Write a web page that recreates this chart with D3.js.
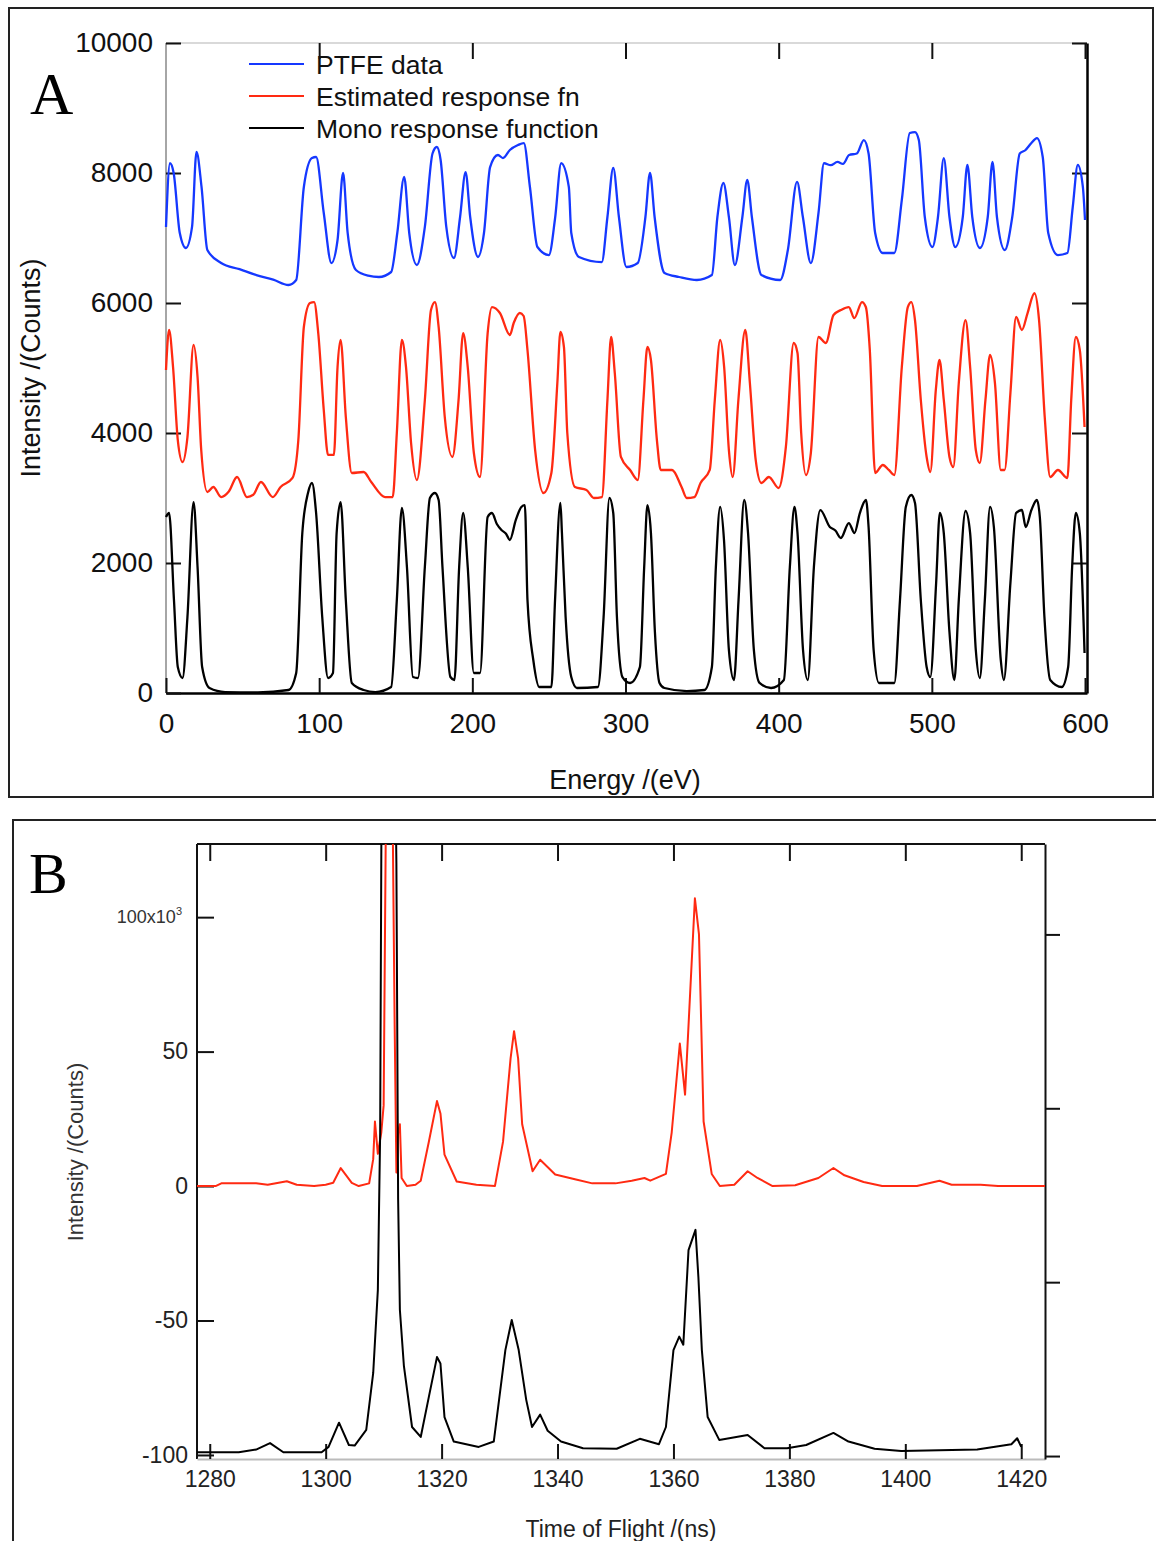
<!DOCTYPE html>
<html>
<head>
<meta charset="utf-8">
<script src="https://cdn.jsdelivr.net/npm/d3@7"></script>
<style>
  html, body { margin: 0; padding: 0; background: #fff; }
  svg { display: block; }
  .sans { font-family: "Liberation Sans", Arial, Helvetica, sans-serif; }
  .serif { font-family: "Liberation Serif", "Times New Roman", serif; }
</style>
</head>
<body>
<svg id="fig" width="1156" height="1541"></svg>
<script>
// ---------- Panel A: energy scans (eV, counts) ----------
const energyTicks = [0, 100, 200, 300, 400, 500, 600];
const intensityTicksA = [0, 2000, 4000, 6000, 8000, 10000];
const legendLabels = ["PTFE data", "Estimated response fn", "Mono response function"];

const ptfeData = [
  [0,7169],[2.6,8150],[5,8000],[9,7077],[13,6846],[17,7170],[19.9,8323],[23.2,7785],[27,6815],[36,6615],
  [48,6520],[59,6430],[70,6360],[80,6277],[85,6354],[90,7785],[95.3,8230],[98,8246],[103,7385],[108,6615],
  [112,6969],[115.6,8000],[118.6,7077],[124,6508],[132,6420],[139,6400],[147,6477],[151,7077],[155.5,7940],
  [158.8,7077],[163.8,6585],[169,7170],[174,8300],[176.8,8400],[179.3,8200],[183,7170],[188,6692],[192,7323],
  [195.6,8015],[198.6,7323],[203.7,6708],[207.6,7077],[211.6,8092],[216.7,8277],[220,8230],[224.5,8354],
  [229.8,8430],[233.6,8460],[237.6,7785],[242.5,6861],[250,6738],[254,7300],[258,8150],[263,7785],[264.6,7077],
  [269.6,6708],[284.5,6630],[288.2,7323],[292,8077],[295.7,7323],[300.6,6554],[308,6615],[313,7323],[316,8000],
  [319,7323],[325.5,6461],[335,6400],[346.6,6354],[356.4,6430],[360,7323],[363.9,7846],[367.5,7323],[371.4,6585],
  [376.3,7323],[379.5,7892],[382.5,7323],[388.7,6430],[401,6354],[406,6815],[412,7862],[415.8,7323],[421,6615],
  [426,7385],[429.6,8150],[434,8120],[438.4,8170],[442,8140],[446,8277],[451,8300],[455.6,8507],[458.7,8300],
  [463,7077],[468,6769],[475.5,6769],[480.4,7585],[485.6,8615],[489,8630],[491.5,8507],[495.4,7323],[500.4,6861],
  [504,7323],[507.8,8230],[511.5,7323],[515.3,6861],[520.2,7323],[523.2,8123],[526.4,7323],[531.4,6846],
  [536.5,7323],[539.6,8170],[542.5,7323],[547.6,6815],[552.5,7323],[557.4,8300],[561,8350],[565,8461],
  [568.6,8538],[572.4,8246],[576,7077],[582.3,6738],[588.5,6769],[592,7477],[595.3,8123],[598.6,7785],[600,7277]
];

const estimatedData = [
  [0,4969],[2,5585],[4.6,5015],[7.7,3892],[10.8,3554],[14,3938],[18,5354],[20.6,4862],[23,3738],[27,3092],
  [30.9,3169],[36,3015],[41,3100],[46.4,3323],[52.9,3015],[57,3050],[62,3246],[69.7,3015],[74.8,3169],[82.6,3308],
  [86.4,3892],[90,5631],[94,6000],[96.7,6015],[99.4,5538],[103,4354],[105.8,3662],[109.6,3662],[112,5015],
  [114,5431],[117.4,4246],[121.3,3385],[129,3400],[134,3246],[143,3015],[148,3015],[150.7,4000],[154,5431],
  [156.7,5015],[160,3846],[163.8,3277],[169,4508],[173,5892],[175.6,6015],[178,5631],[182,4246],[187,3631],
  [191,4508],[194,5538],[197,5015],[201,3692],[205,3323],[210,5538],[212.8,5938],[218,5846],[224.5,5508],
  [227,5692],[231,5846],[233.5,5800],[236,5277],[241,3738],[246.4,3077],[251.6,3385],[255.5,4769],[257.5,5554],
  [259.8,5323],[262,4000],[267,3169],[274.5,3123],[279.4,3000],[284.6,3015],[288.2,4508],[290.6,5477],[293,4923],
  [297,3631],[303,3431],[308,3277],[311.7,4508],[314.3,5323],[316.6,5123],[320.5,3892],[323,3431],[330.4,3431],
  [336.6,3169],[340,3000],[345,3015],[349,3231],[355,3431],[358.3,4508],[361.8,5431],[364.4,5015],[367.5,3738],
  [370,3323],[373.7,4508],[378.2,5585],[381.2,4769],[385,3585],[388.7,3231],[393.6,3323],[400,3154],[404.7,3785],
  [409.8,5385],[412.3,5230],[414.7,4000],[417.8,3354],[421,3692],[426,5477],[430.8,5385],[435.8,5815],[440.6,5892],
  [445.8,5938],[449.4,5769],[454.4,6015],[456.9,5938],[459.5,5277],[463,3385],[468,3508],[471.9,3431],[475.5,3354],
  [480.4,5015],[484.3,5938],[486.6,6015],[489,5738],[492.8,4508],[496.6,3631],[499,3400],[502.6,4662],[505,5123],
  [507.8,4508],[511.5,3631],[514,3477],[517.6,4769],[522,5738],[525,5015],[528.7,3738],[531.3,3538],[535,4508],
  [538,5200],[541.2,4769],[545,3431],[547.5,3431],[551.3,4615],[555,5785],[558.8,5585],[562.5,5846],[567,6150],
  [570,5738],[573.7,4246],[577.3,3323],[582.3,3431],[588.5,3308],[591,4508],[594,5477],[596.6,5277],[599.7,4092]
];

const monoData = [
  [0,2708],[2,2769],[5.2,1431],[7.7,400],[10.8,231],[14,1169],[18,2938],[20.6,1938],[23.6,400],[28.4,77],
  [38.6,15],[60,10],[80,46],[85,308],[89,2461],[92.7,3077],[95.3,3231],[98,2769],[102,1169],[105.8,231],
  [109,308],[111.4,2461],[114,2938],[117.4,1431],[121.3,154],[129,46],[136.7,15],[147,92],[150.7,1431],
  [154,2846],[157.3,1938],[161.2,246],[164.5,231],[169,1938],[172.3,3000],[175.6,3077],[178,2969],[180.5,1938],
  [185.7,246],[188.3,200],[191.4,1938],[194,2769],[197,1938],[201,308],[205,308],[210,2708],[212.8,2769],
  [216,2600],[219,2508],[222,2450],[224.5,2354],[228.4,2662],[232,2862],[234.3,2890],[236,1431],[239.8,508],
  [243.7,92],[251.6,92],[254,1431],[257.5,2923],[258.5,2461],[260.9,1169],[264.6,246],[268.3,77],[282,92],
  [285.7,1169],[289.5,3000],[292,2769],[294.4,1169],[298,246],[303,154],[309.4,400],[312.2,1938],[314.3,2890],
  [316.6,2461],[319.2,938],[322.2,154],[325.4,77],[340,30],[351.5,46],[356.4,400],[359,1938],[361.8,2862],
  [364.3,2354],[367.5,662],[370.8,200],[373.8,1431],[377.5,2969],[380,2461],[383.8,662],[387.5,154],[395,77],
  [403.4,200],[407.3,1938],[410.3,2862],[412.3,2461],[415.9,662],[419,200],[423,1938],[427.2,2815],[433.4,2554],
  [437,2500],[440.6,2385],[445.8,2615],[449.5,2461],[453,2769],[457,2969],[458.7,2554],[462,662],[465.5,154],
  [475.5,154],[479.2,1431],[483,2862],[486.6,3046],[489,2923],[492.8,1431],[496.6,400],[499,246],[502.8,1692],
  [505.2,2769],[507.8,2461],[511.5,938],[514.7,200],[517.6,1431],[522,2800],[525,2461],[528.7,662],[531.3,231],
  [534.6,1431],[538,2862],[540.5,2554],[545,508],[547,200],[551.3,1692],[555,2769],[558.8,2815],[561.3,2554],
  [565,2815],[568.6,2969],[570.5,2708],[573.5,1169],[577.3,200],[584.8,92],[589,400],[591.6,1938],[594,2769],
  [596.6,2461],[599.7,615]
];

// ---------- Panel B: time of flight (ns, 10^3 counts) ----------
const timeTicks = [1280, 1300, 1320, 1340, 1360, 1380, 1400, 1420];
const intensityTicksB = [-100, -50, 0, 50, 100];
const rightTicksB = [0, 1, 2, 3];

const tofEstimated = [
  [1277.8,0],[1281,0],[1282,1],[1288,1],[1290,0.5],[1293.3,1.8],[1295,0.5],[1298,0],[1300,0.5],[1301.3,1.2],
  [1302.6,6.7],[1304.5,1.2],[1305.7,0],[1307.5,1],[1308.2,10],[1308.5,24],[1309,12],[1309.6,20],[1310,30],
  [1310.4,140],[1311.5,150],[1311.9,60],[1312.2,5],[1312.5,20],[1312.8,23],[1313.1,3],[1314,0],[1315.5,0.5],
  [1316.4,2],[1317.8,16.5],[1319.2,31.6],[1319.8,27],[1320.5,11.7],[1322.6,1.7],[1326,0.5],[1329.2,0],
  [1330.6,16.5],[1331.9,47.5],[1332.5,57.6],[1333.2,47.5],[1333.9,23],[1335.7,5.5],[1337,9.8],[1339.6,4.3],
  [1343,2.5],[1346,1],[1350,1],[1352.8,2],[1355,3],[1356,2],[1358.7,4.5],[1359.7,20],[1361.1,53],[1362,34],
  [1363.7,107],[1364.4,93.7],[1364.7,68],[1365.2,24],[1366.6,4.5],[1368,0],[1370.5,0.5],[1372.8,5.5],
  [1374.5,3],[1377.1,0],[1381,0.3],[1385,3],[1387.6,6.7],[1389.5,4],[1392.8,1.5],[1396,0],[1402,0],
  [1405.9,2],[1408,0.5],[1413,0.5],[1416,0],[1424.1,0]
];

const tofMono = [
  [1277.8,-99],[1285,-99],[1288,-98],[1290.4,-95.6],[1292.7,-99],[1299.3,-99],[1300.5,-97],[1302.3,-88],
  [1304,-96.3],[1305,-96.5],[1307,-90.7],[1308.2,-69.5],[1309,-38.7],[1309.4,20],[1309.8,230],[1311.5,250],
  [1312.2,120],[1312.5,-5],[1312.8,-46],[1313.5,-67],[1314.9,-89.6],[1316.4,-93.3],[1317.8,-78.4],[1319.2,-63.6],
  [1319.8,-66],[1320.5,-85.9],[1322.1,-95],[1326.4,-97],[1329,-95],[1331,-61],[1332.1,-49.8],[1333.3,-61],
  [1334.6,-79.5],[1335.6,-89.6],[1337,-85],[1338.3,-91],[1340.6,-95],[1344.4,-97.5],[1350.2,-97.7],[1354.2,-94],
  [1357.5,-96],[1358.7,-89.6],[1360,-61],[1361,-56],[1361.7,-59],[1362.6,-23.8],[1363.8,-16.3],[1364.3,-33.8],
  [1364.9,-61],[1365.9,-85.9],[1367.9,-94.4],[1372.8,-92.6],[1375.7,-97.5],[1379.6,-97.5],[1382.9,-96.3],
  [1387.6,-91.8],[1390.2,-95],[1394.7,-97.7],[1399.3,-98.5],[1412.4,-98],[1418.3,-96],[1419.3,-93.8],[1420,-97]
];

const BLUE = "#1538ff";
const RED = "#ff2a12";
const BLACK = "#000";
const plainNumber = d => String(d);

const svg = d3.select("#fig");
svg.append("rect").attr("width", 1156).attr("height", 1541).attr("fill", "#fff");

// ================= Panel A =================
svg.append("rect").attr("x", 9).attr("y", 8).attr("width", 1144).attr("height", 789)
  .attr("fill", "none").attr("stroke", "#222").attr("stroke-width", 2);

const A = { left: 166, right: 1087, top: 43, bottom: 693 };
const xA = d3.scaleLinear().domain([0, 601.3]).range([A.left, A.right]);
const yA = d3.scaleLinear().domain([0, 10000]).range([A.bottom, A.top]);

const gA = svg.append("g").attr("class", "sans");

// frame lines
gA.append("line").attr("x1", A.left).attr("x2", A.right).attr("y1", A.top).attr("y2", A.top)
  .attr("stroke", "#ccc").attr("stroke-width", 1.5);
gA.append("line").attr("x1", A.left).attr("x2", A.left).attr("y1", A.top).attr("y2", A.bottom)
  .attr("stroke", "#888").attr("stroke-width", 1.5);

// axes
const axA_bottom = gA.append("g").attr("transform", `translate(0,${A.bottom})`)
  .call(d3.axisBottom(xA).tickValues(energyTicks).tickSizeInner(-15).tickSizeOuter(0).tickPadding(20)
    .tickFormat(plainNumber));
const axA_top = gA.append("g").attr("transform", `translate(0,${A.top})`)
  .call(d3.axisTop(xA).tickValues(energyTicks.slice(1)).tickSizeInner(-16).tickSizeOuter(0).tickFormat(""));
const axA_left = gA.append("g").attr("transform", `translate(${A.left},0)`)
  .call(d3.axisLeft(yA).tickValues(intensityTicksA).tickSizeInner(-15).tickSizeOuter(0).tickPadding(13)
    .tickFormat(plainNumber));
const axA_right = gA.append("g").attr("transform", `translate(${A.right},0)`)
  .call(d3.axisRight(yA).tickValues(intensityTicksA.slice(1)).tickSizeInner(-15).tickSizeOuter(0).tickFormat(""));

[axA_bottom, axA_top, axA_left, axA_right].forEach(ax => {
  ax.selectAll(".tick line").attr("stroke", "#111").attr("stroke-width", 2);
  ax.selectAll(".tick text").attr("font-size", 28).attr("fill", "#111")
    .attr("font-family", "'Liberation Sans', Arial, sans-serif");
});
axA_left.select(".domain").remove();
axA_top.select(".domain").remove();
axA_bottom.select(".domain").attr("stroke", "#000").attr("stroke-width", 2.5);
axA_right.select(".domain").attr("stroke", "#000").attr("stroke-width", 2.5);

// data curves
const lineA = d3.line().curve(d3.curveMonotoneX).x(d => xA(d[0])).y(d => yA(d[1]));
const seriesA = [
  { data: ptfeData, color: BLUE },
  { data: estimatedData, color: RED },
  { data: monoData, color: BLACK }
];
seriesA.forEach(s => {
  gA.append("path").datum(s.data).attr("d", lineA)
    .attr("fill", "none").attr("stroke", s.color).attr("stroke-width", 2.3)
    .attr("stroke-linejoin", "round");
});

// legend
const legend = gA.append("g");
legendLabels.forEach((label, i) => {
  const y = 64 + i * 32;
  legend.append("line").attr("x1", 249).attr("x2", 304).attr("y1", y).attr("y2", y)
    .attr("stroke", seriesA[i].color).attr("stroke-width", 2);
  legend.append("text").attr("x", 316).attr("y", y + 9.5).attr("font-size", 26.5)
    .attr("fill", "#111").text(label);
});

// axis titles
gA.append("text").attr("x", 625).attr("y", 789).attr("text-anchor", "middle")
  .attr("font-size", 27).attr("fill", "#111").text("Energy /(eV)");
gA.append("text").attr("transform", "translate(40,368) rotate(-90)").attr("text-anchor", "middle")
  .attr("font-size", 27).attr("fill", "#111").text("Intensity /(Counts)");

svg.append("text").attr("class", "serif").attr("x", 30).attr("y", 114)
  .attr("font-size", 60).attr("fill", "#000").text("A");

// ================= Panel B =================
svg.append("path").attr("d", "M1160,820 L13,820 L13,1545")
  .attr("fill", "none").attr("stroke", "#222").attr("stroke-width", 2);

const B = { left: 197, right: 1045, top: 844, bottom: 1459 };
const xB = d3.scaleLinear().domain([1277.8, 1424.1]).range([B.left, B.right]);
const yB = d3.scaleLinear().domain([-101.5, 127.2]).range([B.bottom, B.top]);
const yBr = d3.scaleLinear().domain([-0.017, 3.52]).range([B.bottom, B.top]);

const gB = svg.append("g").attr("class", "sans");

svg.append("defs").append("clipPath").attr("id", "clipB")
  .append("rect").attr("x", B.left).attr("y", B.top).attr("width", B.right - B.left).attr("height", B.bottom - B.top);

// frame
gB.append("line").attr("x1", B.left).attr("x2", B.right).attr("y1", B.top).attr("y2", B.top)
  .attr("stroke", "#111").attr("stroke-width", 2);
gB.append("line").attr("x1", B.left).attr("x2", B.left).attr("y1", B.top).attr("y2", B.bottom)
  .attr("stroke", "#111").attr("stroke-width", 2);

const axB_bottom = gB.append("g").attr("transform", `translate(0,${B.bottom})`)
  .call(d3.axisBottom(xB).tickValues(timeTicks).tickSizeInner(-15).tickSizeOuter(0).tickPadding(10)
    .tickFormat(plainNumber));
const axB_top = gB.append("g").attr("transform", `translate(0,${B.top})`)
  .call(d3.axisTop(xB).tickValues(timeTicks).tickSizeInner(-17).tickSizeOuter(0).tickFormat(""));
const axB_left = gB.append("g").attr("transform", `translate(${B.left},0)`)
  .call(d3.axisLeft(yB).tickValues(intensityTicksB).tickSizeInner(-17).tickSizeOuter(0).tickPadding(9)
    .tickFormat(d => d === 100 ? "" : String(d)));
const axB_right = gB.append("g").attr("transform", `translate(${B.right},0)`)
  .call(d3.axisRight(yBr).tickValues(rightTicksB).tickSizeInner(15).tickSizeOuter(0).tickFormat(""));

[axB_bottom, axB_top, axB_left, axB_right].forEach(ax => {
  ax.selectAll(".tick line").attr("stroke", "#111").attr("stroke-width", 2);
  ax.selectAll(".tick text").attr("font-size", 23).attr("fill", "#222")
    .attr("font-family", "'Liberation Sans', Arial, sans-serif");
});
axB_top.select(".domain").remove();
axB_left.select(".domain").remove();
axB_bottom.select(".domain").attr("stroke", "#bbb").attr("stroke-width", 2);
axB_right.select(".domain").attr("stroke", "#111").attr("stroke-width", 2);
axB_bottom.selectAll(".tick text").attr("dy", "0.8em");

// "100x10^3" label with superscript
const lab100 = gB.append("text").attr("x", 182).attr("y", yB(100) + 6)
  .attr("text-anchor", "end").attr("font-size", 18).attr("fill", "#333");
lab100.append("tspan").text("100x10");
lab100.append("tspan").attr("font-size", 11).attr("dy", -8).text("3");

// curves
const lineB = d3.line().x(d => xB(d[0])).y(d => yB(d[1]));
const plotB = gB.append("g").attr("clip-path", "url(#clipB)");
plotB.append("path").datum(tofEstimated).attr("d", lineB)
  .attr("fill", "none").attr("stroke", RED).attr("stroke-width", 2).attr("stroke-linejoin", "round");
plotB.append("path").datum(tofMono).attr("d", lineB)
  .attr("fill", "none").attr("stroke", BLACK).attr("stroke-width", 2).attr("stroke-linejoin", "round");

// titles
gB.append("text").attr("x", 621).attr("y", 1537).attr("text-anchor", "middle")
  .attr("font-size", 23).attr("fill", "#222").text("Time of Flight /(ns)");
gB.append("text").attr("transform", "translate(83,1152) rotate(-90)").attr("text-anchor", "middle")
  .attr("font-size", 22).attr("fill", "#333").text("Intensity /(Counts)");

svg.append("text").attr("class", "serif").attr("x", 29).attr("y", 893)
  .attr("font-size", 58).attr("fill", "#000").text("B");
</script>
</body>
</html>
